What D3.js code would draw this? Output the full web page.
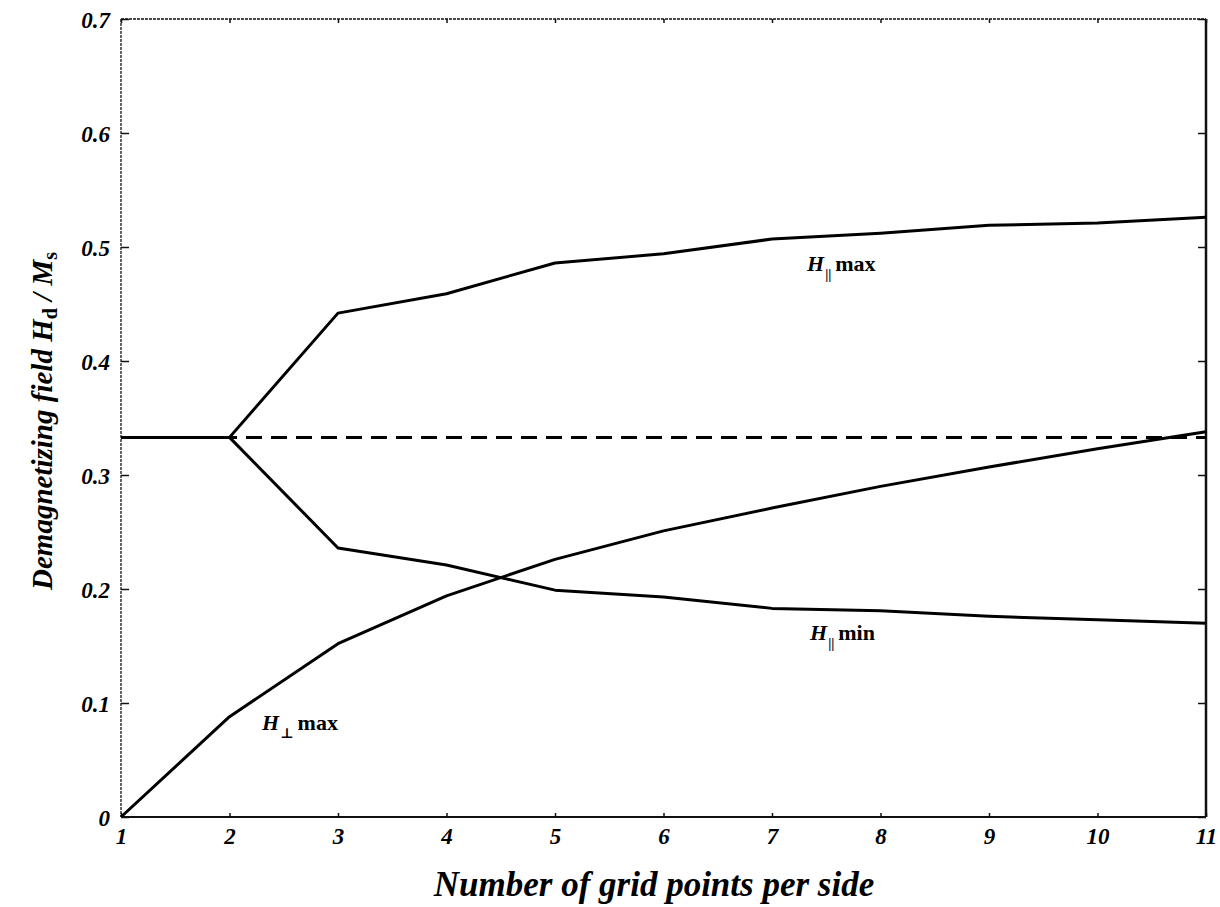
<!DOCTYPE html>
<html>
<head>
<meta charset="utf-8">
<script src="https://cdn.jsdelivr.net/npm/d3@7"></script>
<style>
  html, body { margin: 0; padding: 0; background: #fff; }
  svg { display: block; }
  text { font-family: "Liberation Serif", "DejaVu Serif", serif; fill: #000; }
</style>
</head>
<body>
<svg id="chart" width="1220" height="907"></svg>
<script>
// Grid points per side
const gridPoints = [1, 2, 3, 4, 5, 6, 7, 8, 9, 10, 11];
// Demagnetizing field values (H_d / M_s)
const hParMax  = [0.333, 0.333, 0.442, 0.459, 0.486, 0.494, 0.507, 0.512, 0.519, 0.521, 0.526];
const hParMin  = [0.333, 0.333, 0.236, 0.221, 0.199, 0.193, 0.183, 0.181, 0.176, 0.173, 0.170];
const hPerpMax = [0.000, 0.088, 0.152, 0.194, 0.226, 0.251, 0.271, 0.290, 0.307, 0.323, 0.338];
const uniformValue = [0.333, 0.333];
const uniformRange = [1, 11];
const xTicks = [1, 2, 3, 4, 5, 6, 7, 8, 9, 10, 11];
const yTicks = [0, 0.1, 0.2, 0.3, 0.4, 0.5, 0.6, 0.7];

const svg = d3.select("#chart");
const plotL = 121, plotR = 1206, plotT = 19, plotB = 817;

const x = d3.scaleLinear().domain([1, 11]).range([plotL, plotR]);
const y = d3.scaleLinear().domain([0, 0.7]).range([plotB, plotT]);

// Frame
const frame = svg.append("g").attr("stroke", "#111").attr("fill", "none");
frame.append("line").attr("x1", plotL).attr("x2", plotR).attr("y1", plotT).attr("y2", plotT)
  .attr("stroke-width", 1.3).attr("stroke-dasharray", "3,1");
frame.append("line").attr("x1", plotL).attr("x2", plotL).attr("y1", plotT).attr("y2", plotB)
  .attr("stroke-width", 1.3).attr("stroke-dasharray", "3,1");
frame.append("line").attr("x1", plotL).attr("x2", plotR).attr("y1", plotB).attr("y2", plotB)
  .attr("stroke-width", 1.8);
frame.append("line").attr("x1", plotR).attr("x2", plotR).attr("y1", plotT).attr("y2", plotB)
  .attr("stroke-width", 2.5);

// Axes with inward ticks
const fmtY = d => d === 0 ? "0" : d3.format(".1f")(d);
const bottomAxis = d3.axisBottom(x).tickValues(xTicks).tickSize(-4).tickPadding(11).tickFormat(d3.format("d"));
const leftAxis = d3.axisLeft(y).tickValues(yTicks).tickSize(-8).tickPadding(11).tickFormat(fmtY);
const topAxis = d3.axisTop(x).tickValues(xTicks).tickSize(-4).tickFormat("");
const rightAxis = d3.axisRight(y).tickValues(yTicks).tickSize(-8).tickFormat("");

function styleAxis(g) {
  g.select(".domain").remove();
  g.selectAll(".tick line").attr("stroke", "#111").attr("stroke-width", 1.5);
  g.selectAll(".tick text")
    .attr("font-family", "'Liberation Serif', serif")
    .attr("font-style", "italic").attr("font-weight", "bold")
    .attr("font-size", 23).attr("fill", "#000");
}
svg.append("g").attr("transform", `translate(0,${plotB})`).call(bottomAxis).call(styleAxis);
svg.append("g").attr("transform", `translate(${plotL},0)`).call(leftAxis).call(styleAxis)
  .selectAll(".tick text").attr("dy", "0.35em");
svg.append("g").attr("transform", `translate(0,${plotT})`).call(topAxis).call(styleAxis);
svg.append("g").attr("transform", `translate(${plotR},0)`).call(rightAxis).call(styleAxis);

// Curves
const line = d3.line().x((d, i) => x(gridPoints[i])).y(d => y(d));
[hParMax, hParMin, hPerpMax].forEach(series => {
  svg.append("path").datum(series).attr("d", line)
    .attr("fill", "none").attr("stroke", "#000").attr("stroke-width", 3)
    .attr("stroke-linejoin", "round");
});
svg.append("path")
  .datum(uniformRange.map((r, i) => [r, uniformValue[i]]))
  .attr("d", d3.line().x(d => x(d[0])).y(d => y(d[1])))
  .attr("fill", "none").attr("stroke", "#000").attr("stroke-width", 3)
  .attr("stroke-dasharray", "16,9");

// Curve labels
function curveLabel(px, py, sub, word) {
  const t = svg.append("text").attr("x", px).attr("y", py)
    .attr("font-size", 22).attr("font-weight", "bold");
  t.append("tspan").attr("font-style", "italic").text("H");
  t.append("tspan").attr("font-size", 14).attr("dy", 8).attr("dx", 1).text(sub);
  t.append("tspan").attr("dy", -8).attr("dx", 4).text(word);
}
curveLabel(807, 271, "||", "max");
curveLabel(810, 640, "||", "min");
curveLabel(262, 730, "⊥", "max");

// Axis titles
svg.append("text")
  .attr("x", 654).attr("y", 896)
  .attr("text-anchor", "middle")
  .attr("font-size", 35).attr("font-style", "italic").attr("font-weight", "bold")
  .text("Number of grid points per side");

const yt = svg.append("text")
  .attr("transform", `translate(52,${(plotT + plotB) / 2 + 3}) rotate(-90)`)
  .attr("text-anchor", "middle")
  .attr("font-size", 29).attr("font-weight", "bold");
yt.append("tspan").attr("font-style", "italic").text("Demagnetizing field H");
yt.append("tspan").attr("font-size", 20).attr("dy", 5).text("d");
yt.append("tspan").attr("dy", -5).attr("font-style", "italic").text(" / M");
yt.append("tspan").attr("font-size", 20).attr("dy", 5).text("s");
</script>
</body>
</html>
